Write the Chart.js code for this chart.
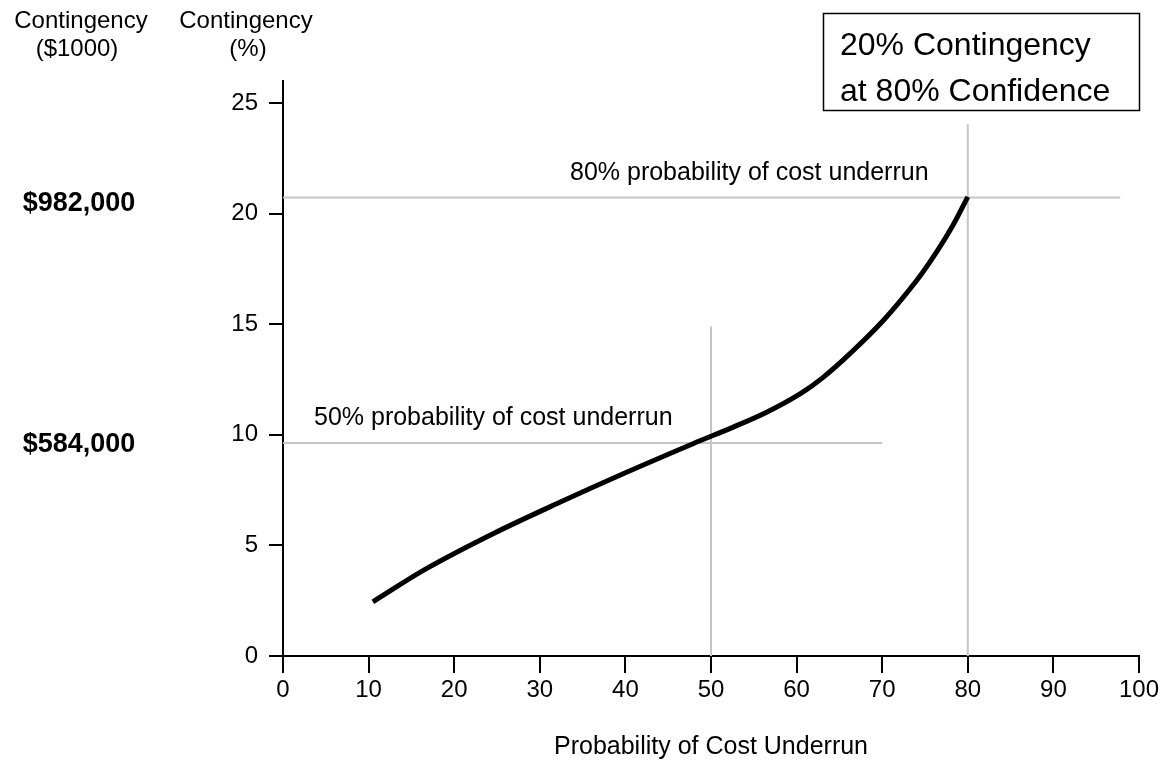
<!DOCTYPE html>
<html>
<head>
<meta charset="utf-8">
<script src="https://cdn.jsdelivr.net/npm/chart.js@4/dist/chart.umd.min.js"></script>
<style>
  html, body { margin: 0; padding: 0; background: #ffffff; }
  #wrap { width: 1169px; height: 766px; }
</style>
</head>
<body>
<div id="wrap"><canvas id="c" width="1169" height="766"></canvas></div>
<script>
// ---- Data ----
const probability = [10.5, 16.8, 24.6, 32.4, 40.2, 47.9, 52.6, 56.5, 60.4, 63.1, 66.2, 70.1, 74.0, 76.4, 78.3, 80.0];
const contingency = [2.45, 3.96, 5.54, 6.96, 8.32, 9.60, 10.35, 11.02, 11.85, 12.60, 13.66, 15.16, 16.97, 18.30, 19.50, 20.76];

const xTickValues = [0, 10, 20, 30, 40, 50, 60, 70, 80, 90, 100];
const yTickValues = [0, 5, 10, 15, 20, 25];

// reference guide lines (x, y pairs)
const guide80H_x = [0, 97.8];   const guide80H_y = [20.73, 20.73];
const guide80V_x = [80, 80];    const guide80V_y = [0, 24.05];
const guide50H_x = [0, 70];     const guide50H_y = [9.63, 9.63];
const guide50V_x = [50, 50];    const guide50V_y = [0, 14.9];

const xTitle = 'Probability of Cost Underrun';
const headerLeft = ['Contingency', '($1000)'];
const headerMid = ['Contingency', '(%)'];
const dollar80 = '$982,000';
const dollar50 = '$584,000';
const label80 = '80% probability of cost underrun';
const label50 = '50% probability of cost underrun';
const boxLines = ['20% Contingency', 'at 80% Confidence'];

const FONT = '"Liberation Sans", Arial, Helvetica, sans-serif';

function pts(xs, ys) { return xs.map((x, i) => ({ x: x, y: ys[i] })); }

const guideStyle = {
  borderColor: '#c6c6c6', borderWidth: 2, pointRadius: 0, fill: false, tension: 0
};

const annotations = {
  id: 'annotations',
  afterDraw(chart) {
    const ctx = chart.ctx;
    ctx.save();
    ctx.fillStyle = '#000';
    // headers
    ctx.font = '24px ' + FONT;
    ctx.textAlign = 'center';
    ctx.textBaseline = 'middle';
    ctx.fillText(headerLeft[0], 81, 21);
    ctx.fillText(headerLeft[1], 77, 49);
    ctx.fillText(headerMid[0], 246, 21);
    ctx.fillText(headerMid[1], 248, 49);

    const ys = chart.scales.y;
    // dollar labels at guide heights
    ctx.font = 'bold 27px ' + FONT;
    ctx.fillText(dollar80, 79, ys.getPixelForValue(guide80H_y[0]) + 6);
    ctx.fillText(dollar50, 79, ys.getPixelForValue(guide50H_y[0]) + 2);

    // guide labels
    ctx.font = '25px ' + FONT;
    ctx.textAlign = 'left';
    ctx.textBaseline = 'alphabetic';
    ctx.fillText(label80, 570, 180);
    ctx.fillText(label50, 314, 425);

    // box
    ctx.lineWidth = 1.5;
    ctx.strokeStyle = '#000';
    ctx.strokeRect(823.5, 13.5, 316, 97);
    ctx.font = '32px ' + FONT;
    ctx.fillText(boxLines[0], 840, 55);
    ctx.fillText(boxLines[1], 840, 101);
    ctx.restore();
  }
};

new Chart(document.getElementById('c'), {
  type: 'line',
  data: {
    datasets: [
      {
        data: pts(probability, contingency),
        borderColor: '#000', borderWidth: 5, pointRadius: 0,
        tension: 0.35, fill: false, borderCapStyle: 'butt'
      },
      Object.assign({ data: pts(guide80H_x, guide80H_y) }, guideStyle),
      Object.assign({ data: pts(guide80V_x, guide80V_y) }, guideStyle),
      Object.assign({ data: pts(guide50H_x, guide50H_y) }, guideStyle),
      Object.assign({ data: pts(guide50V_x, guide50V_y) }, guideStyle)
    ]
  },
  options: {
    responsive: false,
    animation: false,
    layout: { padding: { top: 81, right: 30, left: 0, bottom: 0 } },
    plugins: { legend: { display: false }, tooltip: { enabled: false }, title: { display: false } },
    scales: {
      x: {
        type: 'linear', min: 0, max: 100,
        afterBuildTicks: (s) => { s.ticks = xTickValues.map(v => ({ value: v })); },
        afterFit: (s) => { s.height = 110; },
        ticks: { color: '#000', font: { family: FONT, size: 24 }, padding: 3, maxRotation: 0 },
        grid: { drawOnChartArea: false, drawTicks: true, tickLength: 17, color: '#000', lineWidth: 2 },
        border: { display: true, color: '#000', width: 2 },
        title: { display: true, text: xTitle, color: '#000', font: { family: FONT, size: 25 }, padding: { top: 0, bottom: 4 } }
      },
      y: {
        type: 'linear', min: 0, max: 26,
        afterBuildTicks: (s) => { s.ticks = yTickValues.map(v => ({ value: v })); },
        afterFit: (s) => { s.width = 283; },
        ticks: { color: '#000', font: { family: FONT, size: 24 }, padding: 11 },
        grid: { drawOnChartArea: false, drawTicks: true, tickLength: 14, color: '#000', lineWidth: 2 },
        border: { display: true, color: '#000', width: 2 }
      }
    }
  },
  plugins: [annotations]
});
</script>
</body>
</html>
